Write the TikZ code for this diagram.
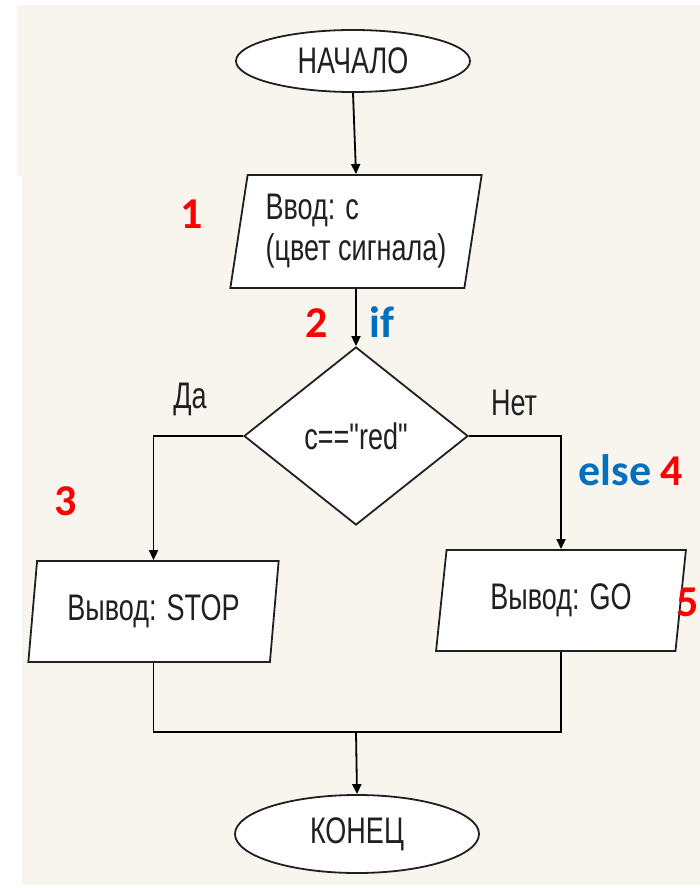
\documentclass[tikz,border=0pt]{standalone}
\usepackage{fontspec}
\usetikzlibrary{shapes.geometric,arrows.meta}
\newfontfamily\fcnarrow{Liberation Sans}[FakeStretch=0.73]
\newfontfamily\fclabel{Carlito}
\definecolor{bgbeige}{HTML}{F8F5EF}
\definecolor{inkgray}{HTML}{202020}
\definecolor{lblred}{HTML}{FF0000}
\definecolor{lblblue}{HTML}{0070C0}
\begin{document}
\begin{tikzpicture}[x=1pt,y=-1pt,
  shapebox/.style={draw=inkgray,line width=1.8pt,fill=white,text=inkgray,inner sep=0pt,
    font=\fcnarrow\fontsize{37}{41}\selectfont},
  termbox/.style={shapebox,ellipse},
  iobox/.style={shapebox,trapezium,trapezium stretches=true,
    trapezium left angle=79,trapezium right angle=101},
  decbox/.style={shapebox,diamond},
  conn/.style={draw=black,line width=1.8pt},
  arr/.style={conn,-{Triangle[width=9pt,length=10pt]}},
  plaintext/.style={text=inkgray,inner sep=0pt,anchor=base,font=\fcnarrow\fontsize{37}{41}\selectfont},
  numlbl/.style={text=lblred,inner sep=0pt,anchor=base,font=\fclabel\bfseries\fontsize{44}{48}\selectfont},
  kwlbl/.style={text=lblblue,inner sep=0pt,anchor=base,font=\fclabel\bfseries\fontsize{44}{48}\selectfont}]
\useasboundingbox (0,0) rectangle (700,888);
\fill[white] (0,0) rectangle (700,888);
\fill[bgbeige] (17,5) rectangle (700,176);
\fill[bgbeige] (22,175) rectangle (700,885);

\node[termbox,minimum width=234pt,minimum height=62pt] (start) at (353,61) {НАЧАЛО};
\node[iobox,minimum width=252pt,minimum height=113pt,align=left] (inp) at (356,231.5)
  {Ввод: с\\(цвет сигнала)};
\node[decbox,minimum width=224pt,minimum height=178pt] (dec) at (356,436) {c=="red"};
\node[iobox,minimum width=251pt,minimum height=101pt] (stop) at (153.5,611.5) {Вывод: STOP};
\node[iobox,minimum width=250pt,minimum height=101pt] (go) at (561,600.5) {Вывод: GO};
\node[termbox,minimum width=244pt,minimum height=78pt] (fin) at (357,834) {КОНЕЦ};

\coordinate (join) at (356,732);

\draw[arr] (start.south) -- (inp.north);
\draw[arr] (inp.south) -- (dec.north);
\draw[arr] (dec.west) -| (stop.north);
\draw[arr] (dec.east) -| (go.north);
\draw[conn] (stop.south) |- (join);
\draw[conn] (go.south) |- (join);
\draw[arr] (join) -- (fin.north);

\node[plaintext] (yes) at (190,408) {Да};
\node[plaintext] (no) at (514,415) {Нет};

\node[numlbl] (n1) at (192,228) {1};
\node[numlbl] (n2) at (317,337) {2};
\node[kwlbl] (kif) at (382,337) {if};
\node[numlbl] (n3) at (66,515) {3};
\node[kwlbl] (kelse) at (615,485) {else};
\node[numlbl] (n4) at (672,485) {4};
\node[numlbl] (n5) at (688,616) {5};
\end{tikzpicture}
\end{document}
